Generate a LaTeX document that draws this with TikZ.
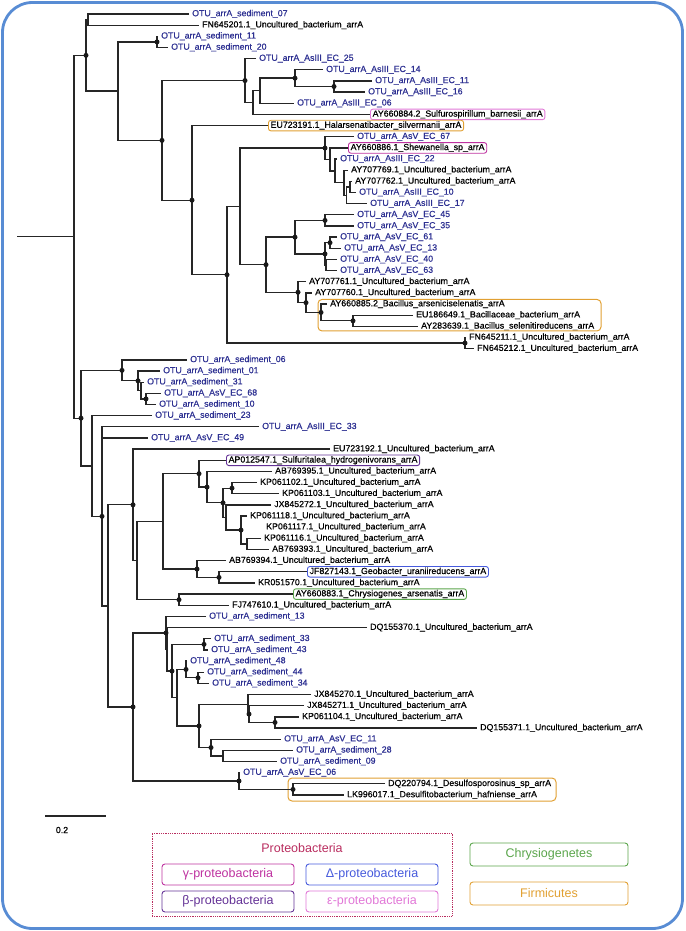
\documentclass[tikz,border=0pt]{standalone}
\usepackage{fontspec}
\setmainfont{Liberation Sans}
\newfontfamily\lblfont{Liberation Sans}[FakeBold=0.6]
\usetikzlibrary{calc}
\definecolor{otu}{RGB}{46,49,146}
\definecolor{gam}{RGB}{190,50,160}
\definecolor{del}{RGB}{70,90,220}
\definecolor{bet}{RGB}{100,50,150}
\definecolor{eps}{RGB}{225,120,215}
\definecolor{chr}{RGB}{90,165,75}
\definecolor{frm}{RGB}{225,160,50}
\definecolor{prot}{RGB}{185,45,95}
\definecolor{frame}{RGB}{88,140,212}
\newcommand\treenode[4]{%
  \path let \p1=($(#3)!0.5!(#4)$) in (#2pt,\y1) coordinate (#1);
  \draw[br] (#3) -| (#1) |- (#4);}
\newcommand\nodedot[1]{\fill[black!90] (#1) circle (2.5pt);}
\begin{document}
\begin{tikzpicture}[x=1pt,y=-1pt,
  br/.style={line width=1.3pt, draw=black!85, line join=miter},
  lf/.style={anchor=west, inner xsep=3pt, inner ysep=1.2pt, text height=6.3pt, text depth=1.9pt, font=\lblfont\fontsize{8.8}{10}\selectfont},
  otu/.style={lf, text=otu},
  acc/.style={lf, text=black},
  bx/.style={lf, draw=#1, rounded corners=2.5pt, line width=0.9pt, inner xsep=2.2pt, text=black},
  grp/.style={draw=frm, rounded corners=4pt, line width=1pt, inner sep=0pt},
  legbox/.style={draw=#1, text=#1, rounded corners=3pt, line width=0.9pt, minimum width=132pt, minimum height=21pt, font=\fontsize{12.5}{14}\selectfont, inner sep=0pt},
  bigbox/.style={legbox=#1, minimum width=158pt, minimum height=23pt}]
\useasboundingbox (0,0) rectangle (685,931);
\draw[frame, line width=2.8pt, rounded corners=30pt] (2.5,2.5) rectangle (682.5,928.5);

% leaves
\node[otu] (l1) at (189,14.0) {OTU\_arrA\_sediment\_07};
\node[acc] (l2) at (199,25.2) {FN645201.1\_Uncultured\_bacterium\_arrA};
\node[otu] (l3) at (158,36.3) {OTU\_arrA\_sediment\_11};
\node[otu] (l4) at (168,47.5) {OTU\_arrA\_sediment\_20};
\node[otu] (l5) at (256,58.6) {OTU\_arrA\_AsIII\_EC\_25};
\node[otu] (l6) at (323,69.8) {OTU\_arrA\_AsIII\_EC\_14};
\node[otu] (l7) at (372,80.9) {OTU\_arrA\_AsIII\_EC\_11};
\node[otu] (l8) at (365,92.1) {OTU\_arrA\_AsIII\_EC\_16};
\node[otu] (l9) at (294,103.3) {OTU\_arrA\_AsIII\_EC\_06};
\node[bx=eps] (l10) at (370,114.4) {AY660884.2\_Sulfurospirillum\_barnesii\_arrA};
\node[bx=frm] (l11) at (268,125.6) {EU723191.1\_Halarsenatibacter\_silvermanii\_arrA};
\node[otu] (l12) at (354,136.7) {OTU\_arrA\_AsV\_EC\_67};
\node[bx=gam] (l13) at (348,147.9) {AY660886.1\_Shewanella\_sp\_arrA};
\node[otu] (l14) at (337,159.0) {OTU\_arrA\_AsIII\_EC\_22};
\node[acc] (l15) at (348,170.2) {AY707769.1\_Uncultured\_bacterium\_arrA};
\node[acc] (l16) at (352,181.4) {AY707762.1\_Uncultured\_bacterium\_arrA};
\node[otu] (l17) at (356,192.5) {OTU\_arrA\_AsIII\_EC\_10};
\node[otu] (l18) at (367,203.7) {OTU\_arrA\_AsIII\_EC\_17};
\node[otu] (l19) at (354,214.8) {OTU\_arrA\_AsV\_EC\_45};
\node[otu] (l20) at (354,226.0) {OTU\_arrA\_AsV\_EC\_35};
\node[otu] (l21) at (337,237.1) {OTU\_arrA\_AsV\_EC\_61};
\node[otu] (l22) at (341,248.3) {OTU\_arrA\_AsV\_EC\_13};
\node[otu] (l23) at (337,259.5) {OTU\_arrA\_AsV\_EC\_40};
\node[otu] (l24) at (337,270.6) {OTU\_arrA\_AsV\_EC\_63};
\node[acc] (l25) at (306,281.8) {AY707761.1\_Uncultured\_bacterium\_arrA};
\node[acc] (l26) at (312,292.9) {AY707760.1\_Uncultured\_bacterium\_arrA};
\node[acc] (l27) at (327,304.1) {AY660885.2\_Bacillus\_arseniciselenatis\_arrA};
\node[acc] (l28) at (413,315.2) {EU186649.1\_Bacillaceae\_bacterium\_arrA};
\node[acc] (l29) at (418,326.4) {AY283639.1\_Bacillus\_selenitireducens\_arrA};
\node[acc] (l30) at (466,337.5) {FN645211.1\_Uncultured\_bacterium\_arrA};
\node[acc] (l31) at (474,348.7) {FN645212.1\_Uncultured\_bacterium\_arrA};
\node[otu] (l32) at (187,359.9) {OTU\_arrA\_sediment\_06};
\node[otu] (l33) at (160,371.0) {OTU\_arrA\_sediment\_01};
\node[otu] (l34) at (144,382.2) {OTU\_arrA\_sediment\_31};
\node[otu] (l35) at (161,393.3) {OTU\_arrA\_AsV\_EC\_68};
\node[otu] (l36) at (156,404.5) {OTU\_arrA\_sediment\_10};
\node[otu] (l37) at (152,415.6) {OTU\_arrA\_sediment\_23};
\node[otu] (l38) at (259,426.8) {OTU\_arrA\_AsIII\_EC\_33};
\node[otu] (l39) at (148,438.0) {OTU\_arrA\_AsV\_EC\_49};
\node[acc] (l40) at (330,449.1) {EU723192.1\_Uncultured\_bacterium\_arrA};
\node[bx=bet] (l41) at (226,460.3) {AP012547.1\_Sulfuritalea\_hydrogenivorans\_arrA};
\node[acc] (l42) at (272,471.4) {AB769395.1\_Uncultured\_bacterium\_arrA};
\node[acc] (l43) at (257,482.6) {KP061102.1\_Uncultured\_bacterium\_arrA};
\node[acc] (l44) at (279,493.7) {KP061103.1\_Uncultured\_bacterium\_arrA};
\node[acc] (l45) at (271,504.9) {JX845272.1\_Uncultured\_bacterium\_arrA};
\node[acc] (l46) at (247,516.1) {KP061118.1\_Uncultured\_bacterium\_arrA};
\node[acc] (l47) at (263,527.2) {KP061117.1\_Uncultured\_bacterium\_arrA};
\node[acc] (l48) at (261,538.4) {KP061116.1\_Uncultured\_bacterium\_arrA};
\node[acc] (l49) at (269,549.5) {AB769393.1\_Uncultured\_bacterium\_arrA};
\node[acc] (l50) at (226,560.7) {AB769394.1\_Uncultured\_bacterium\_arrA};
\node[bx=del] (l51) at (307,571.8) {JF827143.1\_Geobacter\_uraniireducens\_arrA};
\node[acc] (l52) at (255,583.0) {KR051570.1\_Uncultured\_bacterium\_arrA};
\node[bx=chr] (l53) at (293,594.1) {AY660883.1\_Chrysiogenes\_arsenatis\_arrA};
\node[acc] (l54) at (229,605.3) {FJ747610.1\_Uncultured\_bacterium\_arrA};
\node[otu] (l55) at (206,616.5) {OTU\_arrA\_sediment\_13};
\node[acc] (l56) at (367,627.6) {DQ155370.1\_Uncultured\_bacterium\_arrA};
\node[otu] (l57) at (211,638.8) {OTU\_arrA\_sediment\_33};
\node[otu] (l58) at (208,649.9) {OTU\_arrA\_sediment\_43};
\node[otu] (l59) at (187,661.1) {OTU\_arrA\_sediment\_48};
\node[otu] (l60) at (204,672.2) {OTU\_arrA\_sediment\_44};
\node[otu] (l61) at (209,683.4) {OTU\_arrA\_sediment\_34};
\node[acc] (l62) at (311,694.6) {JX845270.1\_Uncultured\_bacterium\_arrA};
\node[acc] (l63) at (304,705.7) {JX845271.1\_Uncultured\_bacterium\_arrA};
\node[acc] (l64) at (299,716.9) {KP061104.1\_Uncultured\_bacterium\_arrA};
\node[acc] (l65) at (477,728.0) {DQ155371.1\_Uncultured\_bacterium\_arrA};
\node[otu] (l66) at (281,739.2) {OTU\_arrA\_AsV\_EC\_11};
\node[otu] (l67) at (293,750.3) {OTU\_arrA\_sediment\_28};
\node[otu] (l68) at (277,761.5) {OTU\_arrA\_sediment\_09};
\node[otu] (l69) at (240,772.6) {OTU\_arrA\_AsV\_EC\_06};
\node[acc] (l70) at (385,783.8) {DQ220794.1\_Desulfosporosinus\_sp\_arrA};
\node[acc] (l71) at (344,795.0) {LK996017.1\_Desulfitobacterium\_hafniense\_arrA};

% group boxes
\node[grp, minimum width=283pt, minimum height=31.5pt] (g1) at (459.5,315.2) {};
\node[grp, minimum width=268pt, minimum height=23pt] (g2) at (422,789.5) {};

% upper tree
\treenode{Na1}{88}{l1.west}{l2.west}
\treenode{Nsed}{157}{l3.west}{l4.west}
\treenode{Ni}{334}{l7.west}{l8.west}
\treenode{Nh}{295}{l6.west}{Ni}
\treenode{Nf}{260}{Nh}{l9.west}
\treenode{Ne}{253}{Nf}{l10.west}
\treenode{Nc}{245}{l5.west}{Ne}
\treenode{Nl6}{350}{l16.west}{l17.west}
\treenode{Nl5}{346.5}{Nl6}{l18.west}
\treenode{Nl4}{344}{l15.west}{Nl5}
\treenode{Nl3}{335}{l14.west}{Nl4}
\treenode{Nl2}{330}{l13.west}{Nl3}
\treenode{Nl}{325}{l12.west}{Nl2}
\treenode{Nt}{325}{l19.west}{l20.west}
\treenode{Nv}{330}{l21.west}{l22.west}
\treenode{Nw}{326}{l23.west}{l24.west}
\treenode{Nu}{325}{Nv}{Nw}
\treenode{Nn}{295}{Nt}{Nu}
\treenode{Nz}{353}{l28.west}{l29.west}
\treenode{Ny}{321}{l27.west}{Nz}
\treenode{Nx}{306}{l26.west}{Ny}
\treenode{No}{298}{l25.west}{Nx}
\treenode{Nm}{266}{Nn}{No}
\treenode{Nk}{240}{Nl}{Nm}
\treenode{Nfn}{465}{l30.west}{l31.west}
\treenode{Nj}{227}{Nk}{Nfn}
\treenode{Nd}{192}{l11.west}{Nj}
\treenode{Nb}{162}{Nc}{Nd}
\treenode{Na2}{118}{Nsed}{Nb}
\treenode{NA}{86}{Na1}{Na2}

% lower tree
\treenode{N68}{146}{l35.west}{l36.west}
\treenode{N31}{141}{l34.west}{N68}
\treenode{N01}{138}{l33.west}{N31}
\treenode{N06}{122}{l32.west}{N01}
\treenode{NN}{232}{l43.west}{l44.west}
\treenode{NS}{247}{l48.west}{l49.west}
\treenode{NR}{241}{l46.west}{NS}
\treenode{NO}{226}{l45.west}{NR}
\treenode{NM}{223}{NN}{NO}
\treenode{NL}{207}{l42.west}{NM}
\treenode{NJ}{199}{l41.west}{NL}
\treenode{N219}{219}{l51.west}{l52.west}
\treenode{NK}{197}{l50.west}{N219}
\treenode{NI}{163}{NJ}{NK}
\treenode{N179}{179}{l53.west}{l54.west}
\treenode{NH}{137}{NI}{N179}
\treenode{NF}{133}{l40.west}{NH}
\treenode{N33}{204}{l57.west}{l58.west}
\treenode{N44}{198}{l60.west}{l61.west}
\treenode{N48}{186}{l59.west}{N44}
\treenode{NKP}{275}{l64.west}{l65.west}
\treenode{NJX2}{249}{l63.west}{NKP}
\treenode{NJX}{248}{l62.west}{NJX2}
\treenode{N28}{223}{l67.west}{l68.west}
\treenode{NA11}{211}{l66.west}{N28}
\treenode{NDQ}{199}{NJX}{NA11}
\treenode{NY2}{177}{N48}{NDQ}
\treenode{NY}{172}{N33}{NY2}
\treenode{NT2}{167}{l56.west}{NY}
\treenode{NT}{166}{l55.west}{NT2}
\treenode{NV}{293}{l70.west}{l71.west}
\treenode{NU}{239}{l69.west}{NV}
\treenode{NG}{133}{NT}{NU}
\treenode{NE}{108}{NF}{NG}
\treenode{NQ}{102}{l38.west}{NE}
\draw[br] (NQ |- l39.west) -- (l39.west);
\treenode{NP}{92}{l37.west}{NQ}
\treenode{NB}{81}{N06}{NP}
\treenode{root}{74}{NA}{NB}
\coordinate (r0) at (17,0);
\draw[br] (root) -- (root -| r0);

% support dots
\foreach \n in {NA,Nsed,Nb,Nc,Nh,Ni,Nd,Nj,Nl,Nn,Nt,Nu,Nv,Nm,No,Nx,Ny,Nz,Nfn,
  N06,N01,N68,NB,NQ,NF,NJ,NL,NN,NM,NR,NK,N219,N179,NG,NT,N33,NY,N48,N44,NDQ,NJX2,NKP,NA11,NU,NV}
  {\nodedot{\n}}

% scale bar
\coordinate (s0) at (45,816);
\coordinate (s1) at (106,816);
\draw[line width=1.3pt, black!85] (s0) -- (s1);
\node[font=\lblfont\fontsize{8.8}{10}\selectfont] (scl) at (62,830) {0.2};

% legend
\node[draw=prot, densely dotted, line width=0.8pt, minimum width=300pt, minimum height=83pt, inner sep=0pt] (pbox) at (302,874.5) {};
\node[text=prot, font=\fontsize{12.5}{14}\selectfont] (ptitle) at (302,848) {Proteobacteria};
\node[legbox=gam] (lg) at (228,874.5) {γ-proteobacteria};
\node[legbox=del] (ld) at (372,874.5) {Δ-proteobacteria};
\node[legbox=bet] (lb) at (228,901.5) {β-proteobacteria};
\node[legbox=eps] (le) at (372,901.5) {ε-proteobacteria};
\node[bigbox=chr] (lc) at (549,854.5) {Chrysiogenetes};
\node[bigbox=frm] (lf) at (549,893.5) {Firmicutes};
\end{tikzpicture}
\end{document}
